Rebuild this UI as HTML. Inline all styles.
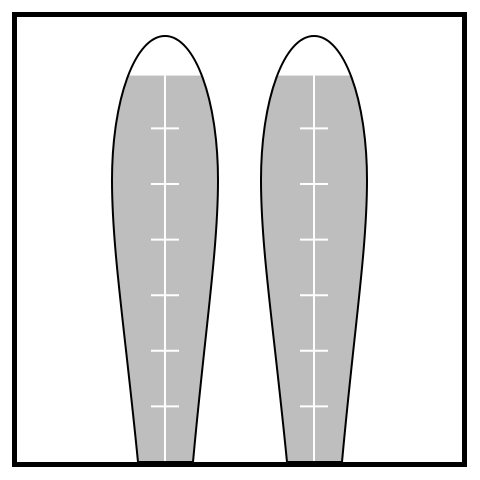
<!DOCTYPE html>
<html><head><meta charset="utf-8"><style>body{margin:0;background:#fff}svg{display:block}</style></head>
<body>
<svg id="chart" width="480" height="480" viewBox="0 0 480 480" xmlns="http://www.w3.org/2000/svg">
<rect x="14.5" y="14.5" width="450" height="450" fill="#fff" stroke="#000" stroke-width="5"/>
<g id="marks"></g>
</svg>
<script>
const categories = ['tube-1', 'tube-2'];
const fillLevels = [6.95, 6.95];
const tickValues = [1, 2, 3, 4, 5, 6];
const centers = [165, 314];
const NS = 'http://www.w3.org/2000/svg';
const y = v => 462 - v * 55.6;
const g = document.getElementById('marks');
categories.forEach((c, i) => {
  const cx = centers[i];
  const d = `M${cx-27},462 C${cx-40},330 ${cx-53},250 ${cx-53},180 C${cx-53},100 ${cx-30},36 ${cx},36 C${cx+30},36 ${cx+53},100 ${cx+53},180 C${cx+53},250 ${cx+40},330 ${cx+28},462 Z`;
  const cp = document.createElementNS(NS, 'clipPath');
  cp.setAttribute('id', 'clip' + i);
  const p0 = document.createElementNS(NS, 'path');
  p0.setAttribute('d', d);
  cp.appendChild(p0);
  g.appendChild(cp);
  const fill = document.createElementNS(NS, 'rect');
  
  
  fill.setAttribute('x', cx - 60); fill.setAttribute('width', 120);
  fill.setAttribute('y', y(fillLevels[i])); fill.setAttribute('height', 462 - y(fillLevels[i]));
  fill.setAttribute('fill', '#bebebe');
  fill.setAttribute('clip-path', `url(#clip${i})`);
  g.appendChild(fill);
  const line = document.createElementNS(NS, 'line');
  
  
  line.setAttribute('x1', cx); line.setAttribute('x2', cx);
  line.setAttribute('y1', y(fillLevels[i])); line.setAttribute('y2', 462);
  line.setAttribute('stroke', '#fff'); line.setAttribute('stroke-width', 2);
  g.appendChild(line);
  tickValues.forEach(t => {
    const tk = document.createElementNS(NS, 'line');
    
    
    tk.setAttribute('x1', cx - 14); tk.setAttribute('x2', cx + 14);
    tk.setAttribute('y1', y(t)); tk.setAttribute('y2', y(t));
    tk.setAttribute('stroke', '#fff'); tk.setAttribute('stroke-width', 2);
    g.appendChild(tk);
  });
  const out = document.createElementNS(NS, 'path');
  
  
  out.setAttribute('d', d);
  out.setAttribute('fill', 'none'); out.setAttribute('stroke', '#000'); out.setAttribute('stroke-width', 2);
  g.appendChild(out);
});
</script>
</body></html>
